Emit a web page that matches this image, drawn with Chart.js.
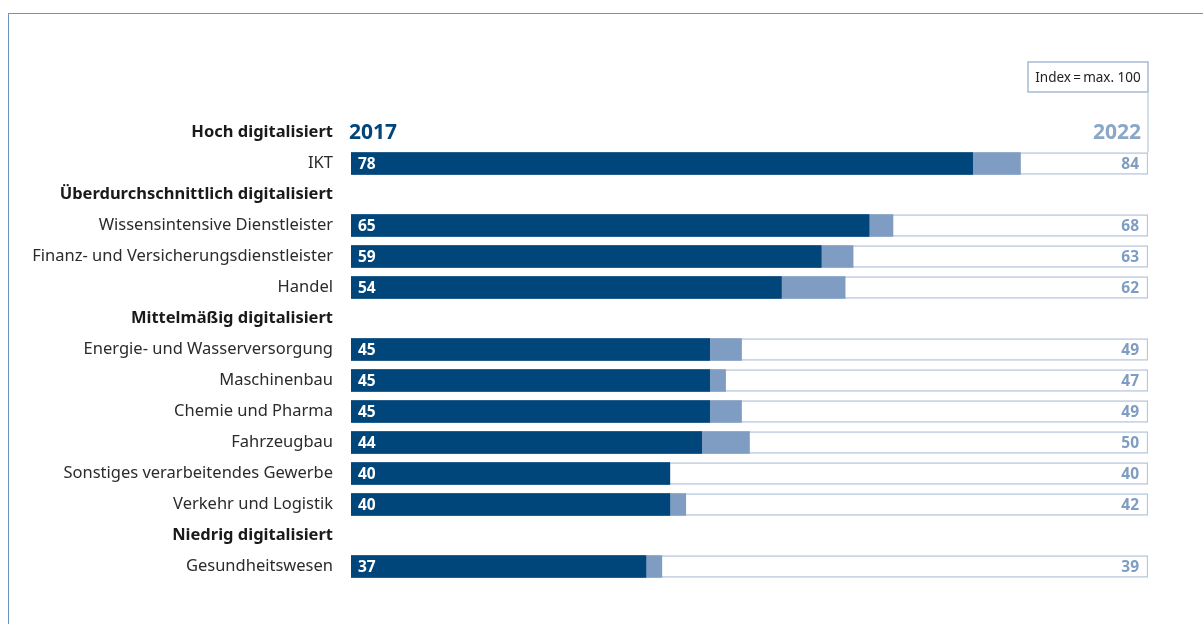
<!DOCTYPE html>
<html lang="de">
<head>
<meta charset="utf-8">
<title>Digitalisierungsindex nach Branchen</title>
<script src="https://cdn.jsdelivr.net/npm/chart.js@4.4.1/dist/chart.umd.min.js"></script>
<style>
  html, body { margin: 0; padding: 0; background: #fff; }
  #wrap { position: relative; width: 1203px; height: 624px; overflow: hidden; }
  #frame { position: absolute; left: 8px; top: 13px; width: 1300px; height: 700px; border: 1.5px solid #6b93bb; }
  #chart { position: absolute; left: 0; top: 0; }
</style>
</head>
<body>
<div id="wrap">
  <div id="frame"></div>
  <canvas id="chart" width="1203" height="624"></canvas>
</div>
<script>
// rows of the chart, group headings are rows without bars
const categories = [
  'Hoch digitalisiert',
  'IKT',
  'Überdurchschnittlich digitalisiert',
  'Wissensintensive Dienstleister',
  'Finanz- und Versicherungsdienstleister',
  'Handel',
  'Mittelmäßig digitalisiert',
  'Energie- und Wasserversorgung',
  'Maschinenbau',
  'Chemie und Pharma',
  'Fahrzeugbau',
  'Sonstiges verarbeitendes Gewerbe',
  'Verkehr und Logistik',
  'Niedrig digitalisiert',
  'Gesundheitswesen'
];
const headings = [
  'Hoch digitalisiert',
  'Überdurchschnittlich digitalisiert',
  'Mittelmäßig digitalisiert',
  'Niedrig digitalisiert'
];
const values2017 = [null, 78, null, 65, 59, 54, null, 45, 45, 45, 44, 40, 40, null, 37];
const values2022 = [null, 84, null, 68, 63, 62, null, 49, 47, 49, 50, 40, 42, null, 39];
const indexMax = 100;
const maxValues = categories.map(c => headings.includes(c) ? null : indexMax);

const FONT = '"Noto Sans", "Open Sans", sans-serif';
const DARK = '#00467a';
const LIGHT = '#7f9dc2';
const OUTLINE = '#b9c9dd';

const labelsPlugin = {
  id: 'valueLabels',
  afterDatasetsDraw(chart) {
    const ctx = chart.ctx;
    const x = chart.scales.x;
    const y = chart.scales.y;
    const left = x.getPixelForValue(0);
    const right = x.getPixelForValue(indexMax);
    ctx.save();
    ctx.textBaseline = 'middle';

    // values inside the bars
    ctx.font = 'bold 15.5px ' + FONT;
    categories.forEach((c, i) => {
      if (values2017[i] == null) return;
      const cy = y.getPixelForValue(i) + 1;
      ctx.fillStyle = '#fff';
      ctx.textAlign = 'left';
      ctx.fillText(values2017[i], left + 7, cy);
      ctx.fillStyle = LIGHT;
      ctx.textAlign = 'right';
      ctx.fillText(values2022[i], right - 9, cy);
    });

    // year headings on the first row
    const hy = y.getPixelForValue(0) + 1;
    ctx.font = 'bold 21px ' + FONT;
    ctx.textAlign = 'left';
    ctx.fillStyle = DARK;
    ctx.fillText('2017', left - 2, hy);
    ctx.textAlign = 'right';
    ctx.fillStyle = '#8aa6c9';
    ctx.fillText('2022', right - 7, hy);

    // index note box and the line down to the first bar
    const boxTop = 62, boxH = 30, boxW = 120;
    ctx.strokeStyle = '#8fa9c9';
    ctx.lineWidth = 1.2;
    ctx.strokeRect(right - boxW, boxTop, boxW, boxH);
    ctx.beginPath();
    ctx.moveTo(right, boxTop + boxH);
    ctx.lineTo(right, y.getPixelForValue(1) - 11);
    ctx.strokeStyle = OUTLINE;
    ctx.stroke();
    ctx.font = '13.5px ' + FONT;
    ctx.fillStyle = '#222';
    ctx.textAlign = 'center';
    ctx.fillText('Index\u2009=\u2009max. 100', right - boxW / 2, boxTop + boxH / 2 + 1);
    ctx.restore();
  }
};

new Chart(document.getElementById('chart'), {
  type: 'bar',
  data: {
    labels: categories,
    datasets: [
      { label: '2017', data: values2017, backgroundColor: DARK, borderWidth: 0 },
      { label: '2022', data: values2022, backgroundColor: LIGHT, borderWidth: 0 },
      { label: 'max', data: maxValues, backgroundColor: '#fff', borderColor: OUTLINE,
        borderWidth: 1.5, borderSkipped: false }
    ]
  },
  options: {
    indexAxis: 'y',
    responsive: false,
    animation: false,
    layout: { padding: { left: 0, right: 55, top: 117, bottom: 42 } },
    datasets: {
      bar: { grouped: false, barThickness: 22, categoryPercentage: 1 }
    },
    plugins: { legend: { display: false }, tooltip: { enabled: false } },
    scales: {
      x: { display: false, min: 0, max: indexMax },
      y: {
        afterFit: s => { s.width = 351; },
        grid: { display: false, drawTicks: false },
        border: { display: false },
        ticks: {
          padding: 18,
          color: c => headings.includes(categories[c.index]) ? '#1a1a1a' : '#2b2b2b',
          font: c => ({
            family: FONT,
            size: 16.5,
            weight: headings.includes(categories[c.index]) ? 'bold' : 'normal'
          })
        }
      }
    }
  },
  plugins: [labelsPlugin]
});
</script>
</body>
</html>
